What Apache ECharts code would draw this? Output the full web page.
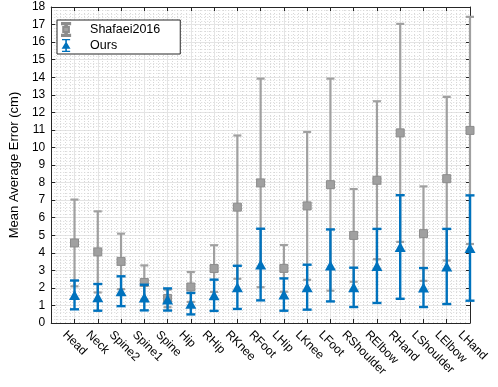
<!DOCTYPE html>
<html>
<head>
<meta charset="utf-8">
<script src="https://cdn.jsdelivr.net/npm/echarts@6/dist/echarts.min.js"></script>
<style>
  html, body { margin: 0; padding: 0; background: #fff; }
  #main { width: 498px; height: 387px; }
</style>
</head>
<body>
<div id="main"></div>
<script>
// joints on the x axis
const joints = ['Head', 'Neck', 'Spine2', 'Spine1', 'Spine', 'Hip', 'RHip', 'RKnee', 'RFoot',
  'LHip', 'LKnee', 'LFoot', 'RShoulder', 'RElbow', 'RHand', 'LShoulder', 'LElbow', 'LHand'];

// Shafaei2016: mean error and +/- spread (cm)
const shafaeiMean = [4.56, 4.05, 3.51, 2.31, 1.40, 2.05, 3.10, 6.60, 7.98, 3.11, 6.67, 7.88, 4.99, 8.13, 10.83, 5.09, 8.22, 10.97];
const shafaeiErr  = [2.47, 2.31, 1.58, 0.97, 0.50, 0.85, 1.33, 4.08, 5.94, 1.33, 4.21, 6.04, 2.64, 4.50, 6.21, 2.69, 4.66, 6.47];

// Ours
const oursMean = [1.60, 1.46, 1.81, 1.45, 1.34, 1.10, 1.58, 2.03, 3.33, 1.62, 2.04, 3.28, 2.03, 3.25, 4.33, 2.02, 3.22, 4.27];
const oursErr  = [0.82, 0.76, 0.85, 0.73, 0.63, 0.61, 0.89, 1.23, 2.04, 0.92, 1.28, 2.05, 1.12, 2.11, 2.95, 1.11, 2.14, 3.00];

const GRAY = '#a0a0a0';
const BLUE = '#0072bd';
const AXIS = '#262626';
const FONT = '"Liberation Sans", Arial, Helvetica, sans-serif';

function toPoints(mean, err) {
  return mean.map((m, i) => [i + 1, m, err[i]]);
}

// errorbar drawn with a custom series: stem + two caps
function errorBar(color, capHalf, width) {
  return function (params, api) {
    const x = api.value(0), m = api.value(1), e = api.value(2);
    const top = api.coord([x, m + e]);
    const bot = api.coord([x, m - e]);
    const style = {stroke: color, lineWidth: width};
    return {
      type: 'group',
      children: [
        {type: 'line', shape: {x1: top[0], y1: top[1], x2: bot[0], y2: bot[1]}, style: style},
        {type: 'line', shape: {x1: top[0] - capHalf, y1: top[1], x2: top[0] + capHalf, y2: top[1]}, style: style},
        {type: 'line', shape: {x1: bot[0] - capHalf, y1: bot[1], x2: bot[0] + capHalf, y2: bot[1]}, style: style}
      ]
    };
  };
}

const grayIcon = 'path://M0,0H10V1.6H6V5H8.5V11H6V14.4H10V16H0V14.4H4V11H1.5V5H4V1.6H0Z';
const blueIcon = 'path://M0,0H10V1.6H6V4.5L10.5,12H6V14.4H10V16H0V14.4H4V12H-0.5L4,4.5V1.6H0Z';

const myChart = echarts.init(document.getElementById('main'), null, {renderer: 'canvas'});

const option = {
  backgroundColor: '#fff',
  animation: false,
  textStyle: {fontFamily: FONT},
  grid: {left: 44, right: 28, top: 7, bottom: 64},
  legend: {
    left: 57, top: 20,
    orient: 'vertical',
    data: [{name: 'Shafaei2016', icon: grayIcon}, {name: 'Ours', icon: blueIcon}],
    itemWidth: 38, itemHeight: 13, itemGap: 2,
    padding: [2, 20, 2, 4],
    borderColor: AXIS, borderWidth: 1,
    backgroundColor: '#fff',
    textStyle: {fontSize: 12.5, color: '#000', fontFamily: FONT},
    selectedMode: false
  },
  xAxis: [{
    type: 'value', min: 0, max: 18, interval: 1,
    axisLine: {show: true, onZero: false, lineStyle: {color: AXIS, width: 1}},
    axisTick: {show: true, inside: true, length: 4, lineStyle: {color: AXIS}},
    axisLabel: {
      rotate: -45, margin: 0, fontSize: 12, color: '#000', fontFamily: FONT,
      verticalAlign: 'top', padding: [8, 0, 0, 0],
      showMinLabel: false,
      formatter: v => joints[v - 1] || ''
    },
    splitLine: {show: true, lineStyle: {color: '#e4e4e4', width: 1}},
    minorTick: {show: false, splitNumber: 5},
    minorSplitLine: {show: true, lineStyle: {color: '#d8d8d8', type: [1, 2], width: 1}}
  }, {
    type: 'value', position: 'top', min: 0, max: 18, interval: 1,
    axisLine: {show: true, onZero: false, lineStyle: {color: AXIS, width: 1}},
    axisTick: {show: true, inside: true, length: 4, lineStyle: {color: AXIS}},
    axisLabel: {show: false},
    splitLine: {show: false}
  }],
  yAxis: [{
    type: 'value', min: 0, max: 18, interval: 1,
    name: 'Mean Average Error (cm)',
    nameLocation: 'middle', nameGap: 24,
    nameTextStyle: {fontSize: 13, color: '#000', fontFamily: FONT},
    axisLine: {show: true, onZero: false, lineStyle: {color: AXIS, width: 1}},
    axisTick: {show: true, inside: true, length: 4, lineStyle: {color: AXIS}},
    axisLabel: {margin: 6, fontSize: 12, color: '#000', fontFamily: FONT},
    splitLine: {show: true, lineStyle: {color: '#e4e4e4', width: 1}},
    minorTick: {show: false, splitNumber: 5},
    minorSplitLine: {show: true, lineStyle: {color: '#d8d8d8', type: [1, 2], width: 1}}
  }, {
    type: 'value', position: 'right', min: 0, max: 18, interval: 1,
    axisLine: {show: true, onZero: false, lineStyle: {color: AXIS, width: 1}},
    axisTick: {show: true, inside: true, length: 4, lineStyle: {color: AXIS}},
    axisLabel: {show: false},
    splitLine: {show: false}
  }],
  series: [{
    name: 'Shafaei2016 err',
    type: 'custom',
    z: 2,
    renderItem: errorBar(GRAY, 4, 2.2),
    encode: {x: 0, y: [1]},
    data: toPoints(shafaeiMean, shafaeiErr)
  }, {
    name: 'Shafaei2016',
    type: 'scatter',
    z: 3,
    symbol: 'rect', symbolSize: 8,
    itemStyle: {color: GRAY, borderColor: '#8c8c8c', borderWidth: 1, opacity: 1},
    data: toPoints(shafaeiMean, shafaeiErr).map(p => [p[0], p[1]])
  }, {
    name: 'Ours err',
    type: 'custom',
    z: 4,
    renderItem: errorBar(BLUE, 4.5, 2.4),
    encode: {x: 0, y: [1]},
    data: toPoints(oursMean, oursErr)
  }, {
    name: 'Ours',
    type: 'scatter',
    z: 5,
    symbol: 'triangle', symbolSize: [11, 10],
    itemStyle: {color: BLUE, opacity: 1},
    data: toPoints(oursMean, oursErr).map(p => [p[0], p[1]])
  }]
};

myChart.setOption(option);
</script>
</body>
</html>
